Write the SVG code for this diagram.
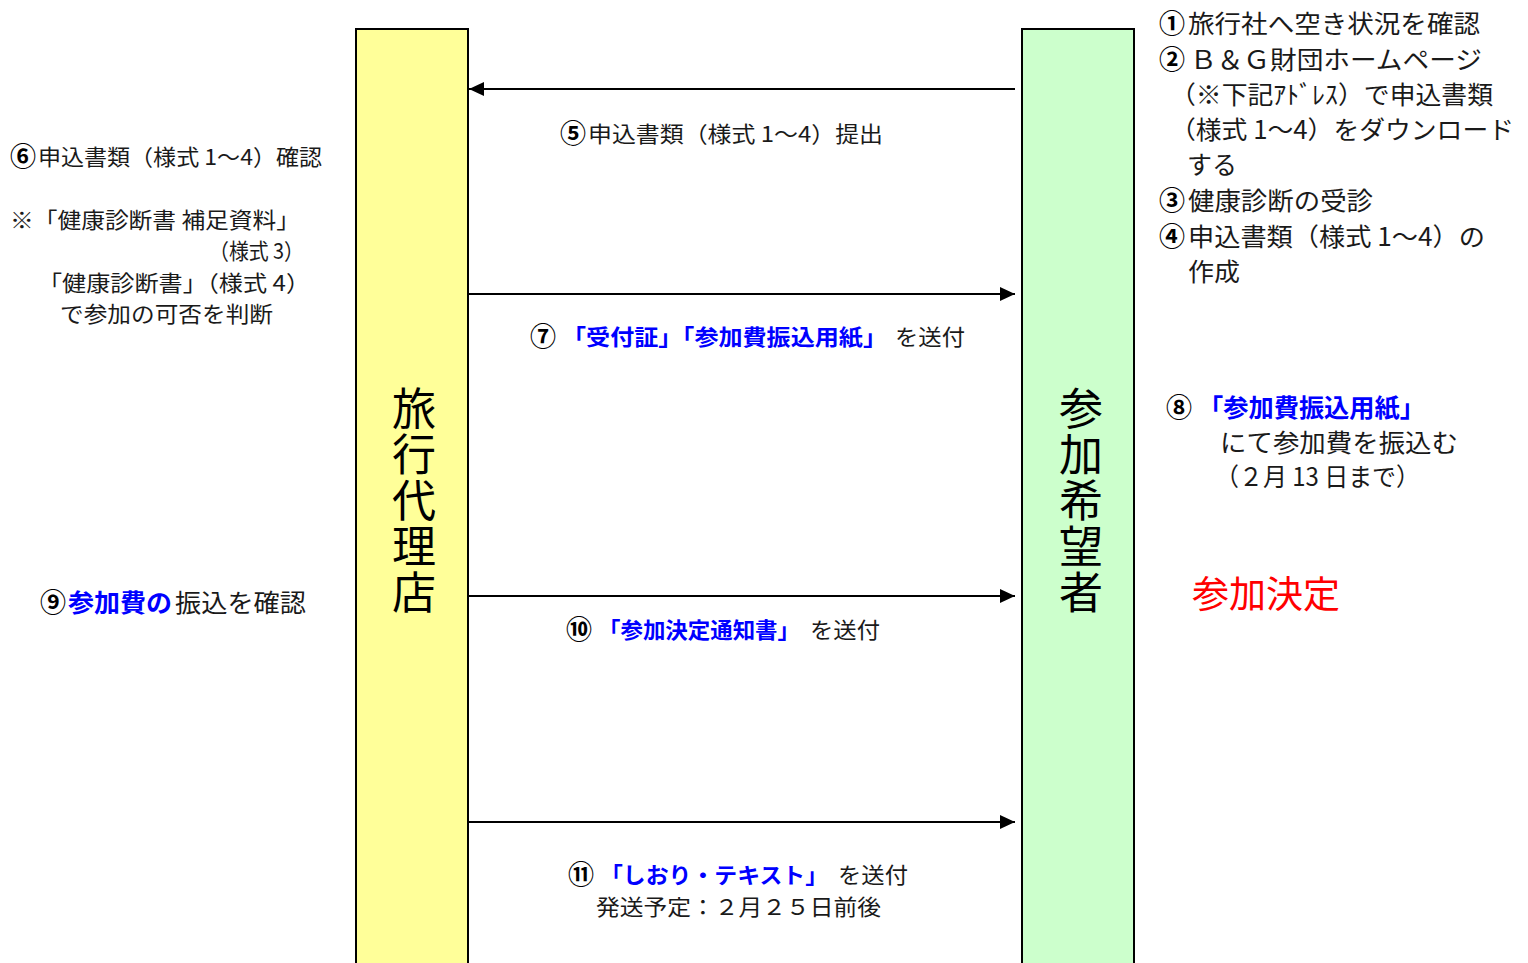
<svg xmlns="http://www.w3.org/2000/svg" width="1528" height="963" viewBox="0 0 1528 963">
<defs>
<marker id="arr" viewBox="0 0 15 14" refX="15" refY="7" markerWidth="15" markerHeight="14" markerUnits="userSpaceOnUse" orient="auto">
<path d="M0,0 L15,7 L0,14 z" fill="#000"/>
</marker>
</defs>
<style>
text{font-family:"Noto Sans CJK JP","Noto Sans",sans-serif;fill:#1a1a1a;dominant-baseline:central}
.s22{font-size:22px}
.s25{font-size:25px}
.n22{font-size:26px;font-weight:bold;text-anchor:middle;fill:#000}
.n25{font-size:26px;font-weight:bold;text-anchor:middle;fill:#000}
.b{fill:#0000ff;font-weight:bold}
.red{fill:#ff0000;font-size:37px}
.big{font-size:44px;fill:#000;writing-mode:vertical-rl;letter-spacing:2px}
.conn{stroke:#000;stroke-width:2;fill:none}
.box{stroke:#000;stroke-width:2}
</style>
<rect width="1528" height="963" fill="#fff"/>

<g id="node-agency">
<rect class="box" x="356" y="29" width="112" height="940" fill="#ffff99"/>
<text class="big" x="414" y="386">旅行代理店</text>
</g>

<g id="node-applicant">
<rect class="box" x="1022" y="29" width="112" height="940" fill="#ccffcc"/>
<text class="big" x="1081" y="386">参加希望者</text>
</g>

<g id="connectors">
<line class="conn" x1="1015" y1="89" x2="469" y2="89" marker-end="url(#arr)"/>
<line class="conn" x1="469" y1="294" x2="1015" y2="294" marker-end="url(#arr)"/>
<line class="conn" x1="469" y1="596" x2="1015" y2="596" marker-end="url(#arr)"/>
<line class="conn" x1="469" y1="822" x2="1015" y2="822" marker-end="url(#arr)"/>
</g>

<g id="label-5">
<text class="n22" x="573" y="131">⑤</text>
<text class="s22" x="588" y="132" textLength="295" lengthAdjust="spacingAndGlyphs">申込書類（様式 1～4）提出</text>
</g>
<g id="label-7">
<text class="n22" x="543" y="334">⑦</text>
<text class="s22 b" x="562" y="335" textLength="325" lengthAdjust="spacingAndGlyphs">「受付証」「参加費振込用紙」</text>
<text class="s22" x="895" y="335" textLength="70" lengthAdjust="spacingAndGlyphs">を送付</text>
</g>
<g id="label-10">
<text class="n22" x="579" y="627">⑩</text>
<text class="s22 b" x="598" y="628" textLength="202" lengthAdjust="spacingAndGlyphs">「参加決定通知書」</text>
<text class="s22" x="810" y="628" textLength="70" lengthAdjust="spacingAndGlyphs">を送付</text>
</g>
<g id="label-11">
<text class="n22" x="581" y="872">⑪</text>
<text class="s22 b" x="600" y="873" textLength="228" lengthAdjust="spacingAndGlyphs">「しおり・テキスト」</text>
<text class="s22" x="838" y="873" textLength="70" lengthAdjust="spacingAndGlyphs">を送付</text>
<text class="s22" x="596" y="905" textLength="285" lengthAdjust="spacingAndGlyphs">発送予定：２月２５日前後</text>
</g>

<g id="notes-left">
<text class="n22" x="23" y="154">⑥</text>
<text class="s22" x="38" y="155" textLength="284" lengthAdjust="spacingAndGlyphs">申込書類（様式 1～4）確認</text>
<text class="s22" x="10" y="218" textLength="290" lengthAdjust="spacingAndGlyphs">※「健康診断書 補足資料」</text>
<text class="s22" x="209" y="249" textLength="95" lengthAdjust="spacingAndGlyphs">（様式 3）</text>
<text class="s22" x="38" y="281" textLength="272" lengthAdjust="spacingAndGlyphs">「健康診断書」（様式 4）</text>
<text class="s22" x="60" y="312" textLength="213" lengthAdjust="spacingAndGlyphs">で参加の可否を判断</text>
<text class="n25" x="53" y="600">⑨</text>
<text class="s25 b" x="68" y="601" textLength="104" lengthAdjust="spacingAndGlyphs">参加費の</text>
<text class="s25" x="175" y="601" textLength="131" lengthAdjust="spacingAndGlyphs">振込を確認</text>
</g>

<g id="notes-right">
<text class="n25" x="1172" y="21">①</text>
<text class="s25" x="1188" y="22" textLength="292" lengthAdjust="spacingAndGlyphs">旅行社へ空き状況を確認</text>
<text class="n25" x="1172" y="57">②</text>
<text class="s25" x="1190" y="58" textLength="292" lengthAdjust="spacingAndGlyphs">Ｂ＆Ｇ財団ホームページ</text>
<text class="s25" x="1170" y="93" textLength="323" lengthAdjust="spacingAndGlyphs">（※下記ｱﾄﾞﾚｽ）で申込書類</text>
<text class="s25" x="1170" y="128" textLength="344" lengthAdjust="spacingAndGlyphs">（様式 1～4）をダウンロード</text>
<text class="s25" x="1187" y="163" textLength="50" lengthAdjust="spacingAndGlyphs">する</text>
<text class="n25" x="1172" y="198">③</text>
<text class="s25" x="1188" y="199" textLength="185" lengthAdjust="spacingAndGlyphs">健康診断の受診</text>
<text class="n25" x="1172" y="234">④</text>
<text class="s25" x="1188" y="235" textLength="297" lengthAdjust="spacingAndGlyphs">申込書類（様式 1～4）の</text>
<text class="s25" x="1188" y="270" textLength="52" lengthAdjust="spacingAndGlyphs">作成</text>
<text class="n25" x="1179" y="405">⑧</text>
<text class="s25 b" x="1198" y="406" textLength="227" lengthAdjust="spacingAndGlyphs">「参加費振込用紙」</text>
<text class="s25" x="1220" y="441" textLength="238" lengthAdjust="spacingAndGlyphs">にて参加費を振込む</text>
<text class="s25" x="1215" y="475" textLength="205" lengthAdjust="spacingAndGlyphs">（２月 13 日まで）</text>
<text class="red" x="1192" y="592" textLength="148" lengthAdjust="spacingAndGlyphs">参加決定</text>
</g>
</svg>
